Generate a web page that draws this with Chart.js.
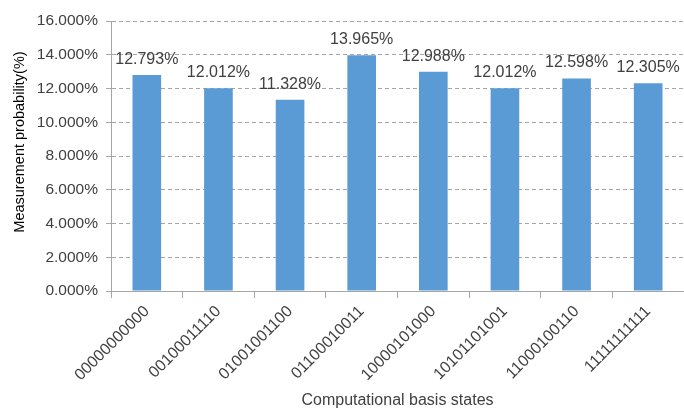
<!DOCTYPE html>
<html>
<head>
<meta charset="utf-8">
<script src="https://cdn.jsdelivr.net/npm/chart.js@4.4.1/dist/chart.umd.min.js"></script>
<style>
  html, body { margin: 0; padding: 0; background: #fff; }
  #wrap { width: 684px; height: 410px; }
</style>
</head>
<body>
<div id="wrap"><canvas id="chart" width="684" height="410"></canvas></div>
<script>
// basis states on the x axis
const states = ['00000000000', '00100011110', '01001001100', '01100010011',
  '10000101000', '10101101001', '11000100110', '11111111111'];
// measured probabilities in percent
const probs = [12.793, 12.012, 11.328, 13.965, 12.988, 12.012, 12.598, 12.305];
const yTicks = [0, 2, 4, 6, 8, 10, 12, 14, 16];

const FONT = 'Liberation Sans';

// value labels on top of the bars + rotated y title
const extras = {
  id: 'extras',
  afterDatasetsDraw(chart) {
    const ctx = chart.ctx;
    const meta = chart.getDatasetMeta(0);
    ctx.save();
    ctx.font = '16px ' + FONT;
    ctx.fillStyle = '#404040';
    ctx.textAlign = 'center';
    ctx.textBaseline = 'alphabetic';
    meta.data.forEach((bar, i) => {
      ctx.fillText(probs[i].toFixed(3) + '%', bar.x, bar.y - 11);
    });
    // y axis title
    ctx.translate(20, 142);
    ctx.rotate(-Math.PI / 2);
    ctx.font = '14.5px ' + FONT;
    ctx.fillStyle = '#000';
    ctx.textBaseline = 'middle';
    ctx.fillText('Measurement probability(%)', 0, 0);
    ctx.restore();
  }
};

new Chart(document.getElementById('chart'), {
  type: 'bar',
  data: {
    labels: states,
    datasets: [{
      data: probs,
      backgroundColor: '#5b9bd5',
      barPercentage: 0.4,
      categoryPercentage: 1.0
    }]
  },
  options: {
    responsive: false,
    animation: false,
    layout: { padding: { top: 21, right: 0, bottom: 0, left: 0 } },
    plugins: { legend: { display: false }, tooltip: { enabled: false } },
    scales: {
      x: {
        grid: { display: true, drawOnChartArea: false, drawTicks: true, tickLength: 7, color: '#a6a6a6', offset: true },
        border: { color: '#a6a6a6', width: 1 },
        ticks: { color: '#404040', font: { family: FONT, size: 16 }, minRotation: 45, maxRotation: 45, padding: 4 },
        title: { display: true, text: 'Computational basis states', color: '#404040', font: { family: FONT, size: 16 }, padding: { top: 4, bottom: 0 } },
        afterFit(scale) { scale.height = 119; }
      },
      y: {
        min: 0, max: 16,
        afterBuildTicks(scale) { scale.ticks = yTicks.map(v => ({ value: v })); },
        grid: { color: '#a6a6a6', tickLength: 5, tickColor: '#a6a6a6' },
        border: { color: '#a6a6a6', width: 1, dash: [4, 3] },
        ticks: { color: '#404040', font: { family: FONT, size: 15.5 }, padding: 8,
          callback: v => v.toFixed(3) + '%' },
        afterFit(scale) { scale.width = 111; }
      }
    }
  },
  plugins: [extras]
});
</script>
</body>
</html>
